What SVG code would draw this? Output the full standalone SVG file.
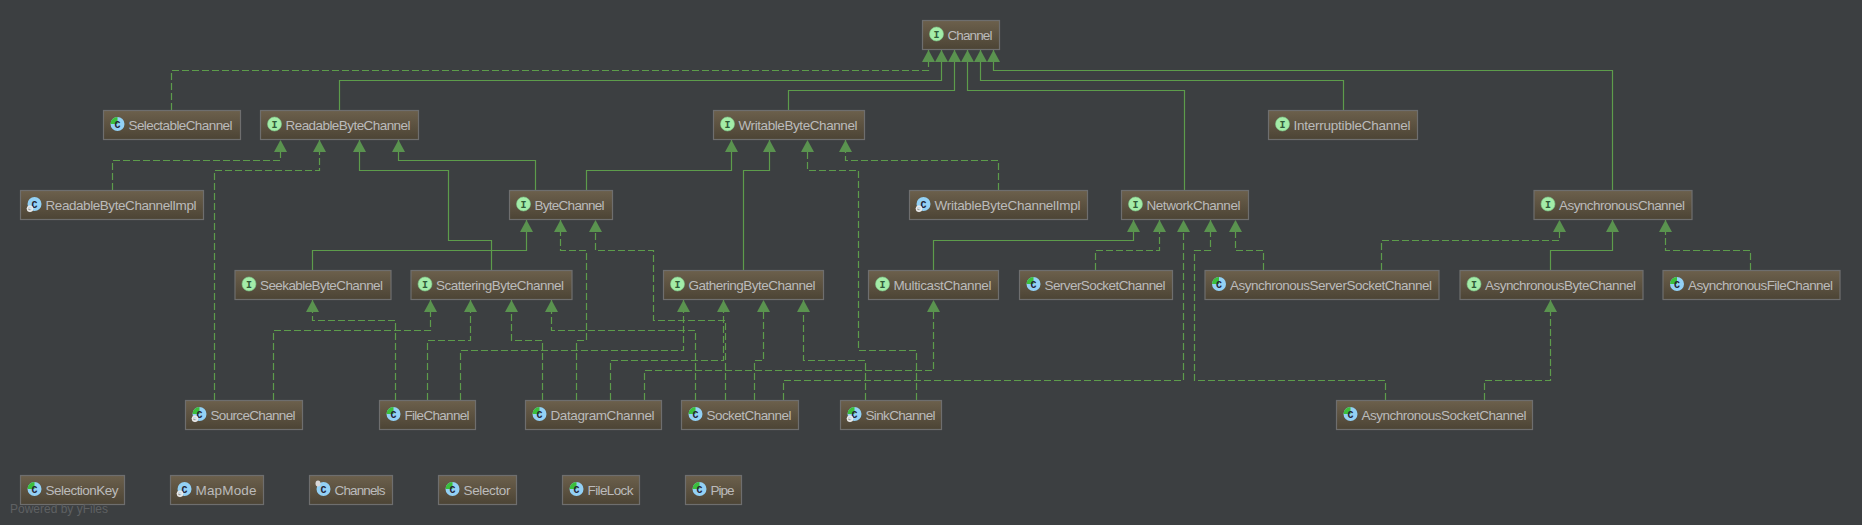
<svg xmlns="http://www.w3.org/2000/svg" xmlns:xlink="http://www.w3.org/1999/xlink" width="1862" height="525" viewBox="0 0 1862 525">
<style>
.bg{fill:#3c3f41}
.box{fill:url(#nodeFill);stroke:#6e6e6e;stroke-width:1.2}
.lbl{font-family:"Liberation Sans",Arial,sans-serif;font-size:13.5px;fill:#bbbbbb}
.ico{font-family:"Liberation Mono",monospace;font-size:10px;font-weight:bold;text-anchor:middle}
.e{fill:none;stroke:#5d9c4b;stroke-width:1.2;marker-end:url(#tri)}
.d{stroke-dasharray:7 3}
.wm{font-family:"Liberation Sans",sans-serif;font-size:12px;fill:#5f6163}
</style>
<defs>
<linearGradient id="nodeFill" x1="0" y1="0" x2="0" y2="1"><stop offset="0" stop-color="#6c604c"/><stop offset="1" stop-color="#4c4435"/></linearGradient>
<marker id="tri" markerUnits="userSpaceOnUse" markerWidth="14" markerHeight="14" refX="12" refY="6.5" orient="auto" overflow="visible"><path d="M0 0L12 6.5L0 13Z" fill="#5a934f"/></marker>
<g id="iI"><circle r="7" fill="#a3eca8"/><circle r="7" fill="none" stroke="#7cc888" stroke-width=".6"/></g>
<g id="iC"><circle r="7" fill="#93d1f5"/></g>
<g id="iA"><circle r="7" fill="#93d1f5"/><path d="M0 0L0-7A7 7 0 0 0-7 0Z" fill="#3bbf3b"/></g>
<g id="gear"><circle cx="-4.5" cy="4.7" r="2.4" fill="none" stroke="#e8e8e8" stroke-width="1.6"/><path d="M-4.5 1.3V8.1M-7.9 4.7H-1.1" stroke="#e8e8e8" stroke-width=".8"/></g>
<ellipse id="pin" cx="-5.5" cy="-5.5" rx="2.5" ry="3" fill="#d8d8d8"/>
</defs>
<rect class="bg" width="1862" height="525"/>
<g id="connectors">
<path class="e d" d="M171.5 110V70.5H928.5V50"/>
<path class="e" d="M339.5 110V80.5H941.5V50"/>
<path class="e" d="M788.5 110V90.5H954.5V50"/>
<path class="e" d="M1184.5 190V90.5H967.5V50"/>
<path class="e" d="M1343.5 110V80.5H980.5V50"/>
<path class="e" d="M1612.5 190V70.5H993.5V50"/>
<path class="e d" d="M112.5 190V160.5H280.5V140"/>
<path class="e d" d="M214.5 400V170.5H319.5V140"/>
<path class="e" d="M491.5 270V240.5H448.5V170.5H359.5V140"/>
<path class="e" d="M535.5 190V160.5H398.5V140"/>
<path class="e" d="M586.5 190V170.5H731.5V140"/>
<path class="e" d="M743.5 270V170.5H769.5V140"/>
<path class="e d" d="M916.5 400V350.5H858.5V170.5H807.5V140"/>
<path class="e d" d="M998.5 190V160.5H845.5V140"/>
<path class="e" d="M312.5 270V250.5H526.5V220"/>
<path class="e d" d="M576.5 400V340.5H586.5V250.5H560.5V220"/>
<path class="e d" d="M725.5 400V320.5H653.5V250.5H595.5V220"/>
<path class="e d" d="M395.5 400V320.5H312.5V300"/>
<path class="e d" d="M273.5 400V330.5H430.5V300"/>
<path class="e d" d="M427.5 400V340.5H470.5V300"/>
<path class="e d" d="M542.5 400V340.5H511.5V300"/>
<path class="e d" d="M695.5 400V330.5H551.5V300"/>
<path class="e d" d="M460.5 400V350.5H683.5V300"/>
<path class="e d" d="M610.5 400V360.5H723.5V300"/>
<path class="e d" d="M754.5 400V360.5H763.5V300"/>
<path class="e d" d="M865.5 400V360.5H803.5V300"/>
<path class="e d" d="M644.5 400V370.5H933.5V300"/>
<path class="e" d="M933.5 270V240.5H1133.5V220"/>
<path class="e d" d="M1095.5 270V250.5H1159.5V220"/>
<path class="e d" d="M783.5 400V380.5H1183.5V220"/>
<path class="e d" d="M1385.5 400V380.5H1194.5V250.5H1210.5V220"/>
<path class="e d" d="M1263.5 270V250.5H1235.5V220"/>
<path class="e d" d="M1381.5 270V240.5H1559.5V220"/>
<path class="e" d="M1550.5 270V250.5H1612.5V220"/>
<path class="e d" d="M1750.5 270V250.5H1665.5V220"/>
<path class="e d" d="M1484.5 400V380.5H1550.5V300"/>
</g>
<g id="Channel" transform="translate(922.5,20.5)"><rect class="box" width="77" height="29"/><use href="#iI" x="14" y="13.5"/><text class="ico" x="14" y="17" fill="#2f5a38">I</text><text class="lbl" x="25" y="19" textLength="45">Channel</text></g>
<g id="SelectableChannel" transform="translate(103.5,110.5)"><rect class="box" width="137" height="29"/><use href="#iA" x="14" y="13.5"/><text class="ico" x="14" y="17" fill="#223">C</text><text class="lbl" x="25" y="19" textLength="104">SelectableChannel</text></g>
<g id="ReadableByteChannel" transform="translate(260.5,110.5)"><rect class="box" width="158" height="29"/><use href="#iI" x="14" y="13.5"/><text class="ico" x="14" y="17" fill="#2f5a38">I</text><text class="lbl" x="25" y="19" textLength="125">ReadableByteChannel</text></g>
<g id="WritableByteChannel" transform="translate(713.5,110.5)"><rect class="box" width="151" height="29"/><use href="#iI" x="14" y="13.5"/><text class="ico" x="14" y="17" fill="#2f5a38">I</text><text class="lbl" x="25" y="19" textLength="119">WritableByteChannel</text></g>
<g id="InterruptibleChannel" transform="translate(1268.5,110.5)"><rect class="box" width="149" height="29"/><use href="#iI" x="14" y="13.5"/><text class="ico" x="14" y="17" fill="#2f5a38">I</text><text class="lbl" x="25" y="19" textLength="117">InterruptibleChannel</text></g>
<g id="ReadableByteChannelImpl" transform="translate(20.5,190.5)"><rect class="box" width="183" height="29"/><use href="#iC" x="14" y="13.5"/><text class="ico" x="14" y="17" fill="#223">C</text><use href="#gear" x="14" y="13.5"/><text class="lbl" x="25" y="19" textLength="151">ReadableByteChannelImpl</text></g>
<g id="ByteChannel" transform="translate(509.5,190.5)"><rect class="box" width="103" height="29"/><use href="#iI" x="14" y="13.5"/><text class="ico" x="14" y="17" fill="#2f5a38">I</text><text class="lbl" x="25" y="19" textLength="70">ByteChannel</text></g>
<g id="WritableByteChannelImpl" transform="translate(909.5,190.5)"><rect class="box" width="178" height="29"/><use href="#iC" x="14" y="13.5"/><text class="ico" x="14" y="17" fill="#223">C</text><use href="#gear" x="14" y="13.5"/><text class="lbl" x="25" y="19" textLength="146">WritableByteChannelImpl</text></g>
<g id="NetworkChannel" transform="translate(1121.5,190.5)"><rect class="box" width="127" height="29"/><use href="#iI" x="14" y="13.5"/><text class="ico" x="14" y="17" fill="#2f5a38">I</text><text class="lbl" x="25" y="19" textLength="94">NetworkChannel</text></g>
<g id="AsynchronousChannel" transform="translate(1534,190.5)"><rect class="box" width="158" height="29"/><use href="#iI" x="14" y="13.5"/><text class="ico" x="14" y="17" fill="#2f5a38">I</text><text class="lbl" x="25" y="19" textLength="126">AsynchronousChannel</text></g>
<g id="SeekableByteChannel" transform="translate(235,270.5)"><rect class="box" width="156" height="29"/><use href="#iI" x="14" y="13.5"/><text class="ico" x="14" y="17" fill="#2f5a38">I</text><text class="lbl" x="25" y="19" textLength="123">SeekableByteChannel</text></g>
<g id="ScatteringByteChannel" transform="translate(411,270.5)"><rect class="box" width="161" height="29"/><use href="#iI" x="14" y="13.5"/><text class="ico" x="14" y="17" fill="#2f5a38">I</text><text class="lbl" x="25" y="19" textLength="128">ScatteringByteChannel</text></g>
<g id="GatheringByteChannel" transform="translate(663.5,270.5)"><rect class="box" width="160" height="29"/><use href="#iI" x="14" y="13.5"/><text class="ico" x="14" y="17" fill="#2f5a38">I</text><text class="lbl" x="25" y="19" textLength="127">GatheringByteChannel</text></g>
<g id="MulticastChannel" transform="translate(868.5,270.5)"><rect class="box" width="130" height="29"/><use href="#iI" x="14" y="13.5"/><text class="ico" x="14" y="17" fill="#2f5a38">I</text><text class="lbl" x="25" y="19" textLength="98">MulticastChannel</text></g>
<g id="ServerSocketChannel" transform="translate(1019.5,270.5)"><rect class="box" width="153" height="29"/><use href="#iA" x="14" y="13.5"/><text class="ico" x="14" y="17" fill="#223">C</text><text class="lbl" x="25" y="19" textLength="121">ServerSocketChannel</text></g>
<g id="AsynchronousServerSocketChannel" transform="translate(1205,270.5)"><rect class="box" width="234" height="29"/><use href="#iA" x="14" y="13.5"/><text class="ico" x="14" y="17" fill="#223">C</text><text class="lbl" x="25" y="19" textLength="202">AsynchronousServerSocketChannel</text></g>
<g id="AsynchronousByteChannel" transform="translate(1460,270.5)"><rect class="box" width="183" height="29"/><use href="#iI" x="14" y="13.5"/><text class="ico" x="14" y="17" fill="#2f5a38">I</text><text class="lbl" x="25" y="19" textLength="151">AsynchronousByteChannel</text></g>
<g id="AsynchronousFileChannel" transform="translate(1663,270.5)"><rect class="box" width="177" height="29"/><use href="#iA" x="14" y="13.5"/><text class="ico" x="14" y="17" fill="#223">C</text><text class="lbl" x="25" y="19" textLength="145">AsynchronousFileChannel</text></g>
<g id="SourceChannel" transform="translate(185.5,400.5)"><rect class="box" width="117" height="29"/><use href="#iA" x="14" y="13.5"/><text class="ico" x="14" y="17" fill="#223">C</text><use href="#gear" x="14" y="13.5"/><text class="lbl" x="25" y="19" textLength="85">SourceChannel</text></g>
<g id="FileChannel" transform="translate(379.5,400.5)"><rect class="box" width="96" height="29"/><use href="#iA" x="14" y="13.5"/><text class="ico" x="14" y="17" fill="#223">C</text><text class="lbl" x="25" y="19" textLength="65">FileChannel</text></g>
<g id="DatagramChannel" transform="translate(525.5,400.5)"><rect class="box" width="136" height="29"/><use href="#iA" x="14" y="13.5"/><text class="ico" x="14" y="17" fill="#223">C</text><text class="lbl" x="25" y="19" textLength="104">DatagramChannel</text></g>
<g id="SocketChannel" transform="translate(681.5,400.5)"><rect class="box" width="117" height="29"/><use href="#iA" x="14" y="13.5"/><text class="ico" x="14" y="17" fill="#223">C</text><text class="lbl" x="25" y="19" textLength="85">SocketChannel</text></g>
<g id="SinkChannel" transform="translate(840.5,400.5)"><rect class="box" width="101" height="29"/><use href="#iA" x="14" y="13.5"/><text class="ico" x="14" y="17" fill="#223">C</text><use href="#gear" x="14" y="13.5"/><text class="lbl" x="25" y="19" textLength="70">SinkChannel</text></g>
<g id="AsynchronousSocketChannel" transform="translate(1336.5,400.5)"><rect class="box" width="196" height="29"/><use href="#iA" x="14" y="13.5"/><text class="ico" x="14" y="17" fill="#223">C</text><text class="lbl" x="25" y="19" textLength="165">AsynchronousSocketChannel</text></g>
<g id="SelectionKey" transform="translate(20.5,475.5)"><rect class="box" width="104" height="29"/><use href="#iA" x="14" y="13.5"/><text class="ico" x="14" y="17" fill="#223">C</text><text class="lbl" x="25" y="19" textLength="73">SelectionKey</text></g>
<g id="MapMode" transform="translate(170.5,475.5)"><rect class="box" width="93" height="29"/><use href="#iC" x="14" y="13.5"/><text class="ico" x="14" y="17" fill="#223">C</text><use href="#gear" x="14" y="13.5"/><text class="lbl" x="25" y="19" textLength="61">MapMode</text></g>
<g id="Channels" transform="translate(309.5,475.5)"><rect class="box" width="83" height="29"/><use href="#iC" x="14" y="13.5"/><text class="ico" x="14" y="17" fill="#223">C</text><use href="#pin" x="14" y="13.5"/><text class="lbl" x="25" y="19" textLength="51">Channels</text></g>
<g id="Selector" transform="translate(438.5,475.5)"><rect class="box" width="78" height="29"/><use href="#iA" x="14" y="13.5"/><text class="ico" x="14" y="17" fill="#223">C</text><text class="lbl" x="25" y="19" textLength="47">Selector</text></g>
<g id="FileLock" transform="translate(562.5,475.5)"><rect class="box" width="77" height="29"/><use href="#iA" x="14" y="13.5"/><text class="ico" x="14" y="17" fill="#223">C</text><text class="lbl" x="25" y="19" textLength="46">FileLock</text></g>
<g id="Pipe" transform="translate(685.5,475.5)"><rect class="box" width="56" height="29"/><use href="#iA" x="14" y="13.5"/><text class="ico" x="14" y="17" fill="#223">C</text><text class="lbl" x="25" y="19" textLength="24">Pipe</text></g>
<text class="wm" x="10" y="513" textLength="98">Powered by yFiles</text>
</svg>
